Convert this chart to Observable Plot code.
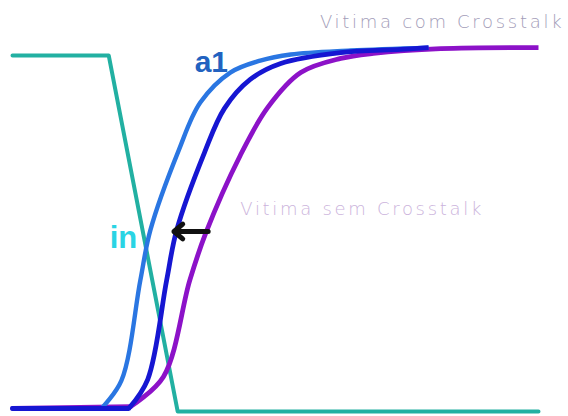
<!DOCTYPE html>
<html>
<head>
<meta charset="utf-8">
<script src="https://cdn.jsdelivr.net/npm/d3@7"></script>
<script src="https://cdn.jsdelivr.net/npm/@observablehq/plot@0.6"></script>
<style>
  body { margin: 0; background: #ffffff; }
</style>
</head>
<body>
<div id="chart"></div>
<script>
// Time in ns, voltage normalised to the supply (0..1)

// Aggressor input "in" (falling edge)
const inTime = [0, 1.83, 3.14, 10];
const inVolt = [0.975, 0.975, -0.008, -0.008];

// Aggressor output "a1"
const a1Time = [0, 1.69, 2.07, 2.43, 2.62, 3.16, 3.57, 4.14, 4.71, 5.29, 6.43, 7.91];
const a1Volt = [0, 0, 0.077, 0.354, 0.492, 0.713, 0.845, 0.928, 0.961, 0.978, 0.989, 0.997];

// Victim net with crosstalk
const comTime = [0, 2.21, 2.57, 2.93, 3.12, 3.65, 4.03, 4.52, 5.10, 6.24, 7.38, 7.91];
const comVolt = [0, 0, 0.080, 0.354, 0.492, 0.707, 0.829, 0.909, 0.953, 0.983, 0.992, 0.997];

// Victim net without crosstalk
const semTime = [0, 2.24, 2.87, 3.37, 3.67, 4.33, 4.85, 5.48, 6.24, 6.86, 8.14, 10];
const semVolt = [0, 0.005, 0.088, 0.354, 0.483, 0.699, 0.831, 0.928, 0.967, 0.981, 0.994, 0.997];

// Annotation labels
const labelText = ["Vitima com Crosstalk", "Vitima sem Crosstalk", "a1", "in"];
const labelTime = [10.49, 4.33, 3.78, 2.11];
const labelVolt = [1.066, 0.55, 0.956, 0.472];

// Delay shift caused by crosstalk (from victim without to victim with)
const shiftFrom = [3.72];
const shiftTo = [3.07];
const shiftVolt = [0.489];

const toRows = (name, ts, vs) => ts.map((t, i) => ({name, t, v: vs[i]}));
const edges = [
  {rows: toRows("sem", semTime, semVolt), color: "#8c12c8", width: 4.8},
  {rows: toRows("a1", a1Time, a1Volt), color: "#2a76e2", width: 4.4},
  {rows: toRows("com", comTime, comVolt), color: "#1616d2", width: 4.8}
];
const inRows = toRows("in", inTime, inVolt);

const labels = labelText.map((text, i) => ({text, t: labelTime[i], v: labelVolt[i]}));
const shift = shiftFrom.map((x1, i) => ({x1, x2: shiftTo[i], v: shiftVolt[i]}));

const captionFont = {fontFamily: "DejaVu Sans", fontSize: 18, fontWeight: 200};

// each rising edge: a straight low level, then a smooth transition
const edgeMarks = edges.flatMap(s => [
  Plot.line(s.rows.slice(0, 2), {
    x: "t", y: "v", stroke: s.color, strokeWidth: s.width, strokeLinecap: "round"
  }),
  Plot.line(s.rows.slice(1), {
    x: "t", y: "v", stroke: s.color, strokeWidth: s.width,
    curve: "catmull-rom", strokeLinecap: "butt", strokeLinejoin: "round"
  })
]);

const chart = Plot.plot({
  width: 568,
  height: 416,
  marginLeft: 12,
  marginRight: 30,
  marginTop: 46,
  marginBottom: 8,
  x: {domain: [0, 10], axis: null},
  y: {domain: [0, 1], axis: null},
  style: {background: "#ffffff", overflow: "visible"},
  marks: [
    Plot.line(inRows, {x: "t", y: "v", stroke: "#22b0a2", strokeWidth: 4, strokeLinejoin: "round"}),
    ...edgeMarks,
    Plot.arrow(shift, {
      x1: "x1", x2: "x2", y1: "v", y2: "v",
      stroke: "#111111", strokeWidth: 5, headLength: 13, headAngle: 80
    }),
    Plot.text(labels.slice(0, 1), {
      x: "t", y: "v", text: "text", textAnchor: "end", ...captionFont, fill: "#a29cb8"
    }),
    Plot.text(labels.slice(1, 2), {
      x: "t", y: "v", text: "text", textAnchor: "start", ...captionFont, fill: "#cbb3dc"
    }),
    Plot.text(labels.slice(2, 3), {
      x: "t", y: "v", text: "text",
      fontFamily: "Liberation Sans", fontSize: 30, fontWeight: "bold", fill: "#2262c0"
    }),
    Plot.text(labels.slice(3, 4), {
      x: "t", y: "v", text: "text",
      fontFamily: "Liberation Sans", fontSize: 31, fontWeight: "bold", fill: "#2ad4e4"
    })
  ]
});

// widen the tracking of the two waveform captions
d3.select(chart).selectAll("text")
  .filter(function () { return this.textContent.startsWith("Vitima"); })
  .style("letter-spacing", "2.7px");

document.getElementById("chart").appendChild(chart);
</script>
</body>
</html>
